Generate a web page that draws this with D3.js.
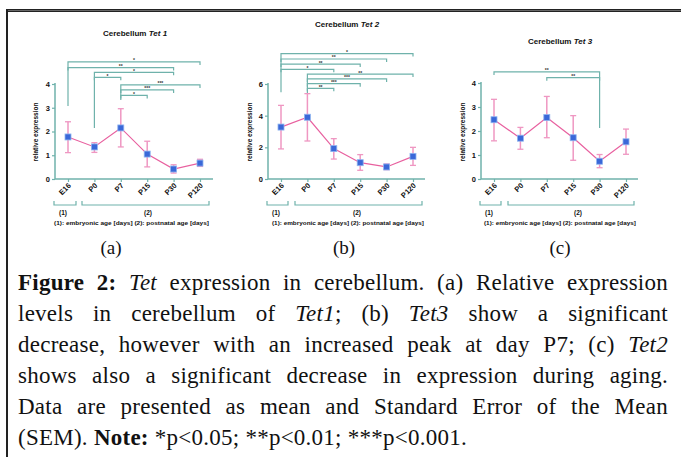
<!DOCTYPE html>
<html>
<head>
<meta charset="UTF-8">
<title>Tet expression in cerebellum</title>
<script src="https://cdn.jsdelivr.net/npm/d3@7"></script>
<style>
  body { margin: 0; background: #fff; }
  #wrap { position: relative; width: 681px; height: 457px; overflow: hidden; }
  #caption { position: absolute; left: 18px; top: 267px; width: 650px;
    font-family: "Liberation Serif", "DejaVu Serif", serif; font-size: 23px; letter-spacing: 0.25px;
    line-height: 31px; color: #111; }
  #caption div { text-align: justify; text-align-last: justify; white-space: nowrap; }
  #caption div.last { text-align-last: left; }
</style>
</head>
<body>
<div id="wrap"></div>
<script>
// categories on the x axis (same for all three panels)
var categories = ["E16", "P0", "P7", "P15", "P30", "P120"];

// Tet1 (a)
var tet1Mean = [1.77, 1.35, 2.15, 1.05, 0.42, 0.67];
var tet1Hi   = [2.41, 1.53, 2.96, 1.59, 0.60, 0.83];
var tet1Lo   = [1.11, 1.12, 1.35, 0.51, 0.25, 0.53];
var tet1Ticks = [0, 1, 2, 3, 4];
// significance brackets: from, to, level, stars, left leg end, right leg end
var tet1Sig = [
  ["E16", "P120", 4.93, "*",   3.07, null],
  ["E16", "P30",  4.69, "**",  null, null],
  ["P0",  "P30",  4.49, "*",   2.15, null],
  ["P0",  "P7",   4.28, "*",   null, null],
  ["P7",  "P120", 3.96, "***", 3.33, null],
  ["P7",  "P30",  3.75, "***", null, null],
  ["P7",  "P15",  3.52, "*",   null, null]
];

// Tet2 (b)
var tet2Mean = [3.28, 3.90, 1.92, 1.03, 0.76, 1.43];
var tet2Hi   = [4.65, 5.39, 2.55, 1.54, 0.95, 2.00];
var tet2Lo   = [1.90, 2.40, 1.26, 0.55, 0.59, 0.86];
var tet2Ticks = [0, 2, 4, 6];
var tet2Sig = [
  ["E16", "P120", 7.92, "*",   5.48, null],
  ["E16", "P30",  7.58, "**",  null, null],
  ["E16", "P15",  7.26, "**",  null, null],
  ["E16", "P7",   6.93, "*",   null, null],
  ["P0",  "P120", 6.63, "**",  5.40, null],
  ["P0",  "P30",  6.32, "***", null, null],
  ["P0",  "P15",  6.02, "***", null, null],
  ["P0",  "P7",   5.73, "**",  null, null]
];

// Tet3 (c)
var tet3Mean = [2.47, 1.70, 2.56, 1.72, 0.74, 1.55];
var tet3Hi   = [3.32, 2.15, 3.44, 2.64, 1.02, 2.08];
var tet3Lo   = [1.59, 1.24, 1.72, 0.78, 0.47, 1.03];
var tet3Ticks = [0, 1, 2, 3, 4];
var tet3Sig = [
  ["E16", "P30", 4.46, "**", null, 2.12],
  ["P7",  "P30", 4.22, "**", null, null]
];

var teal = "#6fb2ab";
var pink = "#e8609f";
var pinkBar = "#ef97c2";
var blue = "#3a68d8";
var sans = "'Liberation Sans', Arial, sans-serif";

var W = 681, H = 457;
var svg = d3.select("#wrap").append("svg")
  .attr("width", W).attr("height", H)
  .style("position", "absolute").style("left", 0).style("top", 0);

svg.append("rect").attr("width", W).attr("height", H).attr("fill", "#fff");

// frame: top double rule + left rule
svg.append("rect").attr("x", 6).attr("y", 9).attr("width", W - 6).attr("height", 3).attr("fill", "#222");
svg.append("line").attr("x1", 6).attr("x2", W).attr("y1", 10.5).attr("y2", 10.5)
  .attr("stroke", "#999").attr("stroke-width", 0.6);
svg.append("rect").attr("x", 6).attr("y", 9).attr("width", 2).attr("height", H - 9).attr("fill", "#222");

var panels = [
  {gene: "1", letter: "(a)", mean: tet1Mean, hi: tet1Hi, lo: tet1Lo, ticks: tet1Ticks, sig: tet1Sig,
   axisX: 55, x0: 68, x1: 200, xEnd: 213, yMax: 4, yTop: 84, titleX: 135, titleY: 36,
   labX: 36, g1: [54, 76], g2: [82, 209], n1: 63, n2: 148, note: [54, 209], letterX: 111},
  {gene: "2", letter: "(b)", mean: tet2Mean, hi: tet2Hi, lo: tet2Lo, ticks: tet2Ticks, sig: tet2Sig,
   axisX: 268, x0: 281, x1: 413, xEnd: 425, yMax: 6, yTop: 84, titleX: 347, titleY: 27,
   labX: 250, g1: [267, 288], g2: [295, 422], n1: 276, n2: 357, note: [272, 424], letterX: 344},
  {gene: "3", letter: "(c)", mean: tet3Mean, hi: tet3Hi, lo: tet3Lo, ticks: tet3Ticks, sig: tet3Sig,
   axisX: 481, x0: 494, x1: 626, xEnd: 638, yMax: 4, yTop: 83, titleX: 560, titleY: 44,
   labX: 463, g1: [480, 501], g2: [508, 634], n1: 489, n2: 578, note: [484, 636], letterX: 560}
];

var yBase = 179;

panels.forEach(function(p) {
  var g = svg.append("g");
  var x = d3.scalePoint().domain(categories).range([p.x0, p.x1]);
  var y = d3.scaleLinear().domain([0, p.yMax]).range([yBase, p.yTop]);

  // title
  var t = g.append("text").attr("x", p.titleX).attr("y", p.titleY)
    .attr("text-anchor", "middle").attr("font-family", sans).attr("font-weight", "bold")
    .attr("font-size", 8).attr("fill", "#111");
  t.append("tspan").text("Cerebellum ");
  t.append("tspan").attr("font-style", "italic").text("Tet " + p.gene);

  // y axis
  var yAxis = d3.axisLeft(y).tickValues(p.ticks).tickSize(3).tickFormat(d3.format("d"));
  var ya = g.append("g").attr("transform", "translate(" + p.axisX + ",0)").call(yAxis);
  ya.select(".domain").attr("stroke", teal).attr("stroke-width", 1.5)
    .attr("d", "M0," + (p.yTop - 1) + "V" + yBase);
  ya.selectAll(".tick line").attr("stroke", teal).attr("stroke-width", 1.2);
  ya.selectAll(".tick text").attr("font-family", sans).attr("font-weight", "bold")
    .attr("font-size", 7.5).attr("fill", "#111").attr("x", -5);

  // x axis
  var xAxis = d3.axisBottom(x).tickSize(3).tickSizeOuter(0);
  var xa = g.append("g").attr("transform", "translate(0," + yBase + ")").call(xAxis);
  xa.select(".domain").attr("stroke", teal).attr("stroke-width", 1.5)
    .attr("d", "M" + p.axisX + ",0H" + p.xEnd);
  xa.selectAll(".tick line").attr("stroke", teal).attr("stroke-width", 1.2);
  xa.selectAll(".tick text").attr("font-family", sans).attr("font-weight", "bold")
    .attr("font-size", 7.5).attr("fill", "#111")
    .attr("text-anchor", "end").attr("dy", 0).attr("y", 0)
    .attr("transform", "translate(3,7) rotate(-45)");

  // y axis label
  g.append("text").attr("transform", "translate(" + p.labX + "," + 132 + ") rotate(-90)")
    .attr("text-anchor", "middle").attr("dy", "0.35em").attr("font-family", sans)
    .attr("font-weight", "bold").attr("font-size", 6.5).attr("fill", "#111")
    .text("relative expression");

  // significance brackets
  p.sig.forEach(function(s) {
    var xa0 = x(s[0]), xb = x(s[1]), yy = y(s[2]);
    var yl = s[4] == null ? yy + 3 : y(s[4]);
    var yr = s[5] == null ? yy + 3 : y(s[5]);
    g.append("path")
      .attr("d", "M" + xa0 + "," + yl + "V" + yy + "H" + xb + "V" + yr)
      .attr("fill", "none").attr("stroke", teal).attr("stroke-width", 1.2);
    g.append("text").attr("x", (xa0 + xb) / 2).attr("y", yy + 0.5)
      .attr("text-anchor", "middle").attr("font-family", sans).attr("font-weight", "bold")
      .attr("font-size", 5).attr("fill", "#333").text(s[3]);
  });

  // error bars
  var idx = d3.range(categories.length);
  idx.forEach(function(i) {
    var cx = x(categories[i]);
    g.append("line").attr("x1", cx).attr("x2", cx).attr("y1", y(p.lo[i])).attr("y2", y(p.hi[i]))
      .attr("stroke", pinkBar).attr("stroke-width", 1.5);
    [p.lo[i], p.hi[i]].forEach(function(v) {
      g.append("line").attr("x1", cx - 3).attr("x2", cx + 3).attr("y1", y(v)).attr("y2", y(v))
        .attr("stroke", pinkBar).attr("stroke-width", 1.3);
    });
  });

  // mean line
  var line = d3.line().x(function(d, i) { return x(categories[i]); }).y(function(d) { return y(d); });
  g.append("path").datum(p.mean).attr("d", line)
    .attr("fill", "none").attr("stroke", pink).attr("stroke-width", 1.2);

  // markers
  g.selectAll("rect.pt").data(p.mean).enter().append("rect").attr("class", "pt")
    .attr("x", function(d, i) { return x(categories[i]) - 3; })
    .attr("y", function(d) { return y(d) - 3; })
    .attr("width", 6).attr("height", 6)
    .attr("fill", blue).attr("stroke", "#8fb4f0").attr("stroke-width", 0.8);

  // age groups
  var gy = 205;
  [p.g1, p.g2].forEach(function(r) {
    g.append("path").attr("d", "M" + r[0] + "," + (gy - 4) + "V" + gy + "H" + r[1] + "V" + (gy - 4))
      .attr("fill", "none").attr("stroke", teal).attr("stroke-width", 1.2);
  });
  g.append("text").attr("x", p.n1).attr("y", 214.5).attr("text-anchor", "middle")
    .attr("font-family", sans).attr("font-weight", "bold").attr("font-size", 6.5).attr("fill", "#111").text("(1)");
  g.append("text").attr("x", p.n2).attr("y", 214.5).attr("text-anchor", "middle")
    .attr("font-family", sans).attr("font-weight", "bold").attr("font-size", 6.5).attr("fill", "#111").text("(2)");
  g.append("text").attr("x", p.note[0]).attr("y", 225).attr("font-family", sans)
    .attr("font-weight", "bold").attr("font-size", 6).attr("fill", "#111")
    .attr("textLength", p.note[1] - p.note[0]).attr("lengthAdjust", "spacingAndGlyphs")
    .text("(1): embryonic age [days]  (2): postnatal age [days]");

  // panel letter
  g.append("text").attr("x", p.letterX).attr("y", 254).attr("text-anchor", "middle")
    .attr("font-family", "'Liberation Serif', serif").attr("font-size", 19).attr("fill", "#111")
    .text(p.letter);
});

// caption
var captionLines = [
  "<b>Figure 2:</b> <i>Tet</i> expression in cerebellum. (a) Relative expression",
  "levels in cerebellum of <i>Tet1</i>; (b) <i>Tet3</i> show a significant",
  "decrease, however with an increased peak at day P7; (c) <i>Tet2</i>",
  "shows also a significant decrease in expression during aging.",
  "Data are presented as mean and Standard Error of the Mean",
  "(SEM). <b>Note:</b> *p&lt;0.05; **p&lt;0.01; ***p&lt;0.001."
];
var cap = d3.select("#wrap").append("div").attr("id", "caption");
cap.selectAll("div").data(captionLines).enter().append("div")
  .attr("class", function(d, i) { return i == captionLines.length - 1 ? "last" : null; })
  .html(function(d) { return d; });
</script>
</body>
</html>
